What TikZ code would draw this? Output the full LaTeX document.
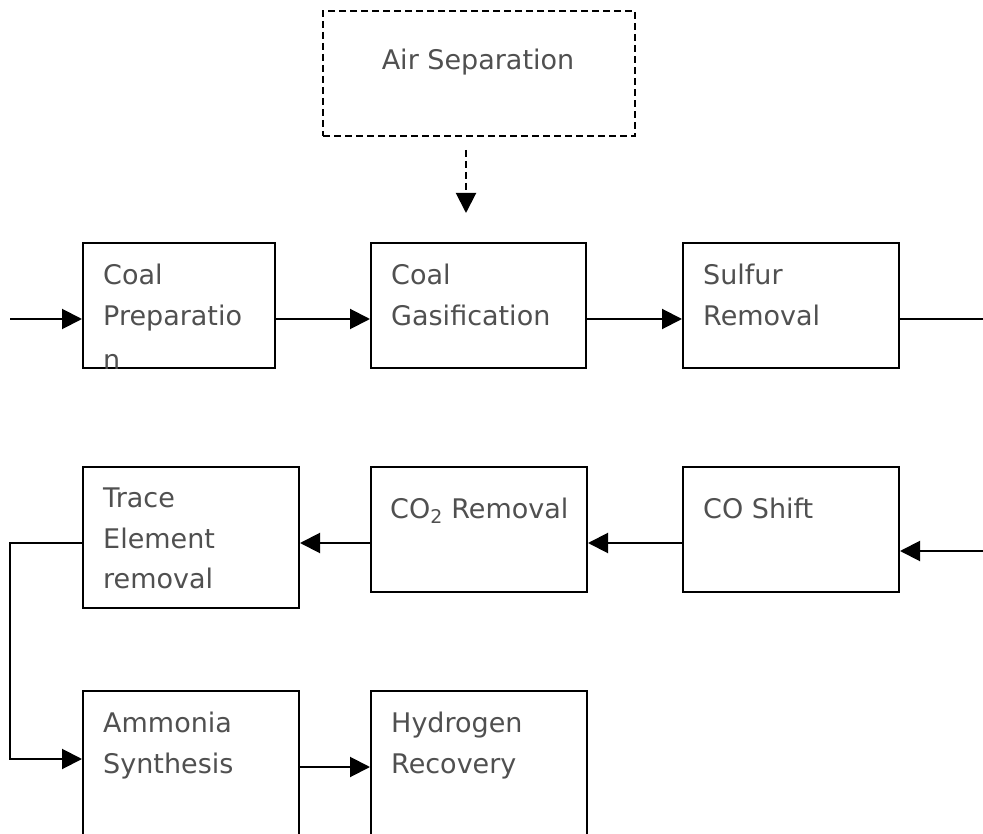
\documentclass[tikz,border=0pt]{standalone}
\usepackage{fontspec}
\setmainfont{DejaVu Sans}
\usetikzlibrary{arrows.meta}
\definecolor{txtgray}{RGB}{80,80,80}
\tikzset{
  stagebox/.style={draw=black, line width=2pt, rectangle, anchor=north west, inner sep=0pt, fill=white},
  stagetext/.style={text=txtgray, anchor=north west, inner sep=0pt, align=left, font=\fontsize{27}{40.5}\selectfont, execute at begin node={\rule{0pt}{30pt}}},
  flow/.style={line width=2pt, draw=black},
  flowarrow/.style={flow, -{Triangle[length=20pt,width=20pt]}},
}
\begin{document}
\begin{tikzpicture}[x=1pt,y=-1pt]
\useasboundingbox (0,0) rectangle (983,834);
\begin{scope}
\clip (0,0) rectangle (983,834);
% boxes
\node[stagebox, dashed, dash pattern=on 7pt off 4pt, minimum width=312pt, minimum height=125pt] (as) at (322,10) {};
\node[stagebox, minimum width=192pt, minimum height=125pt] (cp) at (82,242) {};
\node[stagebox, minimum width=215pt, minimum height=125pt] (cg) at (370,242) {};
\node[stagebox, minimum width=216pt, minimum height=125pt] (sr) at (682,242) {};
\node[stagebox, minimum width=216pt, minimum height=125pt] (cs) at (682,466) {};
\node[stagebox, minimum width=216pt, minimum height=125pt] (co) at (370,466) {};
\node[stagebox, minimum width=216pt, minimum height=141pt] (tr) at (82,466) {};
\node[stagebox, minimum width=216pt, minimum height=200pt] (am) at (82,690) {};
\node[stagebox, minimum width=216pt, minimum height=200pt] (hr) at (370,690) {};
% texts
\node[text=txtgray, inner sep=0pt, font=\fontsize{27}{40}\selectfont, anchor=base] (asT) at (478,70) {Air Separation};
\node[stagetext] (cpT) at ([xshift=21pt,yshift=-22pt]cp.north west) {Coal\\Preparatio};
\begin{scope}
\clip (cp.north west) rectangle (cp.south east);
\node[stagetext] (cpT2) at ([xshift=21pt,yshift=-97pt]cp.north west) {n};
\end{scope}
\node[stagetext] (cgT) at ([xshift=21pt,yshift=-22pt]cg.north west) {Coal\\Gasification};
\node[stagetext] (srT) at ([xshift=21pt,yshift=-22pt]sr.north west) {Sulfur\\Removal};
\node[stagetext] (csT) at ([xshift=21pt,yshift=-22pt]cs.north west) {CO Shift};
\node[stagetext] (coT) at ([xshift=20pt,yshift=-22pt]co.north west) {CO\textsubscript{2} Removal};
\node[stagetext] (trT) at ([xshift=21pt,yshift=-22pt]tr.north west) {Trace\\Element\\removal};
\node[stagetext] (amT) at ([xshift=21pt,yshift=-22pt]am.north west) {Ammonia\\Synthesis};
\node[stagetext] (hrT) at ([xshift=21pt,yshift=-22pt]hr.north west) {Hydrogen\\Recovery};
% connectors
\coordinate (in1) at (10,319);
\coordinate (out1) at (983,319);
\coordinate (in2) at (983,551);
\coordinate (loopx) at (10,543);
\coordinate (da1) at (466,150);
\coordinate (da2) at (466,213);
\draw[flowarrow, dashed, dash pattern=on 7pt off 4pt] (da1) -- (da2);
\draw[flowarrow] (in1) -- (in1 -| cp.west);
\draw[flowarrow] (in1 -| cp.east) -- (in1 -| cg.west);
\draw[flowarrow] (in1 -| cg.east) -- (in1 -| sr.west);
\draw[flow] (in1 -| sr.east) -- (out1);
\draw[flowarrow] (in2) -- (in2 -| cs.east);
\draw[flowarrow] (loopx -| cs.west) -- (loopx -| co.east);
\draw[flowarrow] (loopx -| co.west) -- (loopx -| tr.east);
\draw[flowarrow] (loopx -| tr.west) -- (loopx) -- (10,759) -- (am.west |- 0,759);
\draw[flowarrow] (am.east |- 0,767) -- (hr.west |- 0,767);
\end{scope}
\end{tikzpicture}
\end{document}
